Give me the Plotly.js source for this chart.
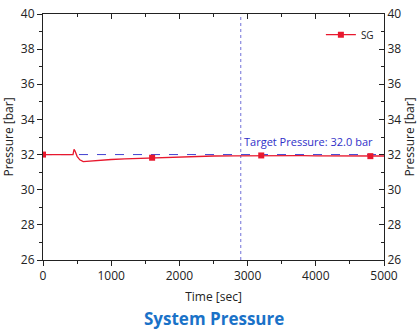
<!DOCTYPE html>
<html><head><meta charset="utf-8">
<script src="https://cdn.plot.ly/plotly-3.0.1.min.js"></script>
<style>html,body{margin:0;padding:0;background:#fff}#c{width:420px;height:331px}</style>
</head><body><div id="c"></div>
<script>
const timeSec = [0, 100, 200, 300, 400, 440, 455, 470, 500, 540, 590, 650, 800, 1000, 1200, 1400, 1600, 1800, 2000, 2200, 2500, 2800, 3000, 3200, 3500, 3800, 4000, 4300, 4600, 4800, 5000];
const sgPressure = [32.0, 32.0, 32.0, 32.0, 32.0, 32.0, 32.3, 32.2, 31.9, 31.7, 31.6, 31.62, 31.68, 31.72, 31.75, 31.78, 31.82, 31.84, 31.87, 31.89, 31.92, 31.93, 31.94, 31.95, 31.95, 31.94, 31.93, 31.93, 31.92, 31.91, 31.92];
const markerTime = [0, 1600, 3200, 4800];
const markerPressure = [32.0, 31.82, 31.95, 31.91];
const targetPressure = 32.0;
const targetTime = 2900;
const xTicks = [0, 1000, 2000, 3000, 4000, 5000];
const yTicks = [26, 28, 30, 32, 34, 36, 38, 40];

const red = '#e8182e';
const blue = '#4040d0';
const font = 'Open Sans, Noto Sans, sans-serif';

const traces = [
  {x: [0, 5000], y: [targetPressure, targetPressure], mode: 'lines', line: {color: blue, width: 1, dash: 'dash'}, showlegend: false, hoverinfo: 'skip'},
  {x: [targetTime, targetTime], y: [26, 40], mode: 'lines', line: {color: '#7070d8', width: 1, dash: 'dot'}, showlegend: false, hoverinfo: 'skip'},
  {x: timeSec, y: sgPressure, mode: 'lines', line: {color: red, width: 1.3}, showlegend: false},
  {x: markerTime, y: markerPressure, mode: 'markers', marker: {color: red, size: 6, symbol: 'square'}, showlegend: false},
  {x: [null], y: [null], mode: 'lines+markers', name: 'SG', line: {color: red, width: 1.3}, marker: {color: red, size: 6, symbol: 'square'}},
  {x: [null], y: [null], xaxis: 'x2', yaxis: 'y2', showlegend: false}
];

const axisCommon = {showgrid: false, zeroline: false, showline: true, linecolor: '#222', linewidth: 1, tickcolor: '#222', tickfont: {family: font, size: 12, color: '#222'}};

const layout = {
  width: 420, height: 331,
  margin: {l: 43, r: 36, t: 14, b: 71},
  paper_bgcolor: '#fff', plot_bgcolor: '#fff',
  font: {family: font, color: '#222'},
  xaxis: Object.assign({}, axisCommon, {range: [0, 5000], tickvals: xTicks, ticks: 'outside', ticklen: 5,
    minor: {dtick: 500, ticks: 'outside', ticklen: 3, tickcolor: '#222'},
    title: {text: 'Time [sec]', font: {family: font, size: 12, color: '#222'}, standoff: 9}}),
  yaxis: Object.assign({}, axisCommon, {range: [26, 40], tickvals: yTicks, ticks: 'outside', ticklen: 5,
    minor: {dtick: 1, ticks: 'outside', ticklen: 3, tickcolor: '#222'},
    title: {text: 'Pressure [bar]', font: {family: font, size: 12, color: '#222'}, standoff: 4}}),
  xaxis2: Object.assign({}, axisCommon, {overlaying: 'x', side: 'top', range: [0, 5000], tickvals: xTicks, showticklabels: false, ticks: 'inside', ticklen: 5,
    minor: {dtick: 500, ticks: 'inside', ticklen: 3, tickcolor: '#222'}}),
  yaxis2: Object.assign({}, axisCommon, {overlaying: 'y', side: 'right', range: [26, 40], tickvals: yTicks, ticks: 'inside', ticklen: 5,
    minor: {dtick: 1, ticks: 'inside', ticklen: 3, tickcolor: '#222'},
    title: {text: 'Pressure [bar]', font: {family: font, size: 12, color: '#222'}, standoff: 2}}),
  legend: {x: 0.985, y: 0.975, xanchor: 'right', yanchor: 'top', bgcolor: 'rgba(0,0,0,0)', font: {family: font, size: 10, color: '#222'}, itemwidth: 30, tracegroupgap: 0},
  annotations: [
    {x: 3900, y: targetPressure, xref: 'x', yref: 'y', text: 'Target Pressure: 32.0 bar', showarrow: false, yanchor: 'bottom', yshift: 4, font: {family: font, size: 11, color: '#3030c8'}},
    {x: 0.5, y: 0, xref: 'paper', yref: 'paper', xanchor: 'center', yanchor: 'top', yshift: -45, text: '<b>System Pressure</b>', showarrow: false, font: {family: font, size: 17, color: '#1a72c8'}}
  ]
};

Plotly.newPlot('c', traces, layout, {displayModeBar: false, staticPlot: true});
</script></body></html>
